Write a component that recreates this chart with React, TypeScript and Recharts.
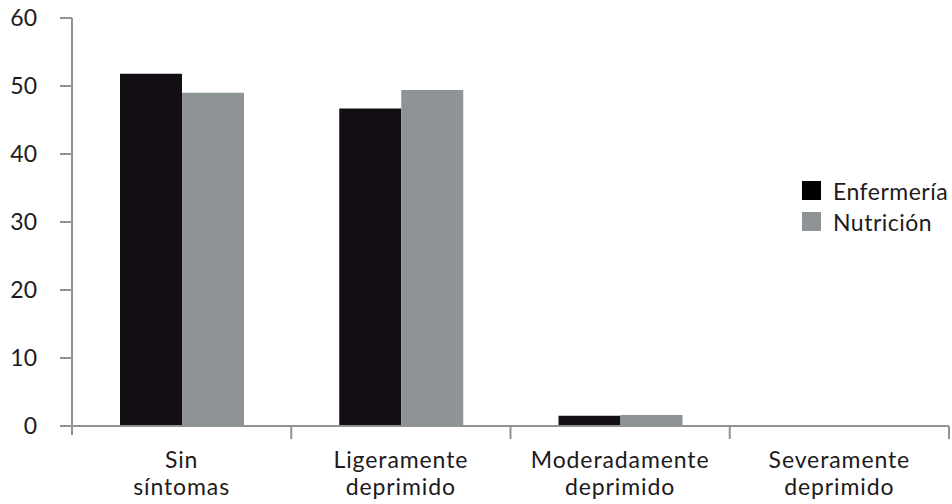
import React from 'react';
import { BarChart, Bar, XAxis, YAxis, Legend } from 'recharts';

// Depression level by degree programme (%)
const categories = ['Sin síntomas', 'Ligeramente deprimido', 'Moderadamente deprimido', 'Severamente deprimido'];
const enfermeria = [51.8, 46.7, 1.5, 0];
const nutricion = [49.0, 49.4, 1.6, 0];
const yTicks = [0, 10, 20, 30, 40, 50, 60];

const FONT = 'Lato, sans-serif';
const AXIS = '#8e9396';
const TEXT = '#1d1a1c';
const DARK = '#120e13';
const GREY = '#8e9396';

const data = categories.map((name, i) => ({
  name,
  Enfermería: enfermeria[i],
  Nutrición: nutricion[i],
}));

// x tick: two-line label centred on the band, tick marks on the band edges
function CategoryTick(props: any) {
  const { x, y, payload, index, visibleTicksCount } = props;
  const half = payload.offset || 109.6;
  const words = String(payload.value).split(' ');
  const last = index === (visibleTicksCount ?? categories.length) - 1;
  const label = { textAnchor: 'middle' as const, fill: TEXT, fontFamily: FONT, fontSize: 23, letterSpacing: 0.9 };
  return (
    <g>
      {index === 0 && <line x1={x - half - 7} x2={x - half} y1={y} y2={y} stroke={AXIS} strokeWidth={2} />}
      <line x1={x - half} x2={x - half} y1={y} y2={y + (index === 0 ? 9 : 13)} stroke={AXIS} strokeWidth={2} />
      {last && <line x1={x + half} x2={x + half} y1={y} y2={y + 13} stroke={AXIS} strokeWidth={2} />}
      <text x={x} y={y + 42} {...label}>{words[0]}</text>
      <text x={x} y={y + 69} {...label}>{words.slice(1).join(' ')}</text>
    </g>
  );
}

function LegendBox(props: any) {
  const items = props.payload || [];
  return (
    <div style={{ fontFamily: FONT, fontSize: 23, color: TEXT, letterSpacing: 0.5 }}>
      {items.map((it: any) => (
        <div key={it.value} style={{ display: 'flex', alignItems: 'center', height: 31 }}>
          <span style={{ width: 19, height: 19, background: it.value === 'Enfermería' ? '#000' : GREY, marginRight: 12 }} />
          <span>{it.value}</span>
        </div>
      ))}
    </div>
  );
}

export default function App() {
  return (
    <div style={{ position: 'fixed', left: 0, top: 0, background: '#fff' }}>
      <BarChart width={952} height={504} data={data} margin={{ top: 18, right: 3, left: 0, bottom: 0 }} barSize={62} barGap={0}>
        <XAxis
          dataKey="name"
          height={78}
          axisLine={{ stroke: AXIS, strokeWidth: 2 }}
          tickLine={false}
          tickSize={0}
          tickMargin={0}
          interval={0}
          tick={<CategoryTick />}
        />
        <YAxis
          width={72}
          domain={[0, 60]}
          ticks={yTicks}
          interval={0}
          axisLine={{ stroke: AXIS, strokeWidth: 2 }}
          tickLine={{ stroke: AXIS, strokeWidth: 2 }}
          tickSize={12}
          tickMargin={23}
          tick={{ fill: TEXT, fontFamily: FONT, fontSize: 23 }}
        />
        <Legend
          layout="vertical"
          align="center"
          verticalAlign="middle"
          content={<LegendBox />}
          wrapperStyle={{ position: 'absolute', left: 802, top: 175, width: 150 }}
        />
        <Bar dataKey="Enfermería" fill={DARK} isAnimationActive={false} />
        <Bar dataKey="Nutrición" fill={GREY} isAnimationActive={false} />
      </BarChart>
    </div>
  );
}
